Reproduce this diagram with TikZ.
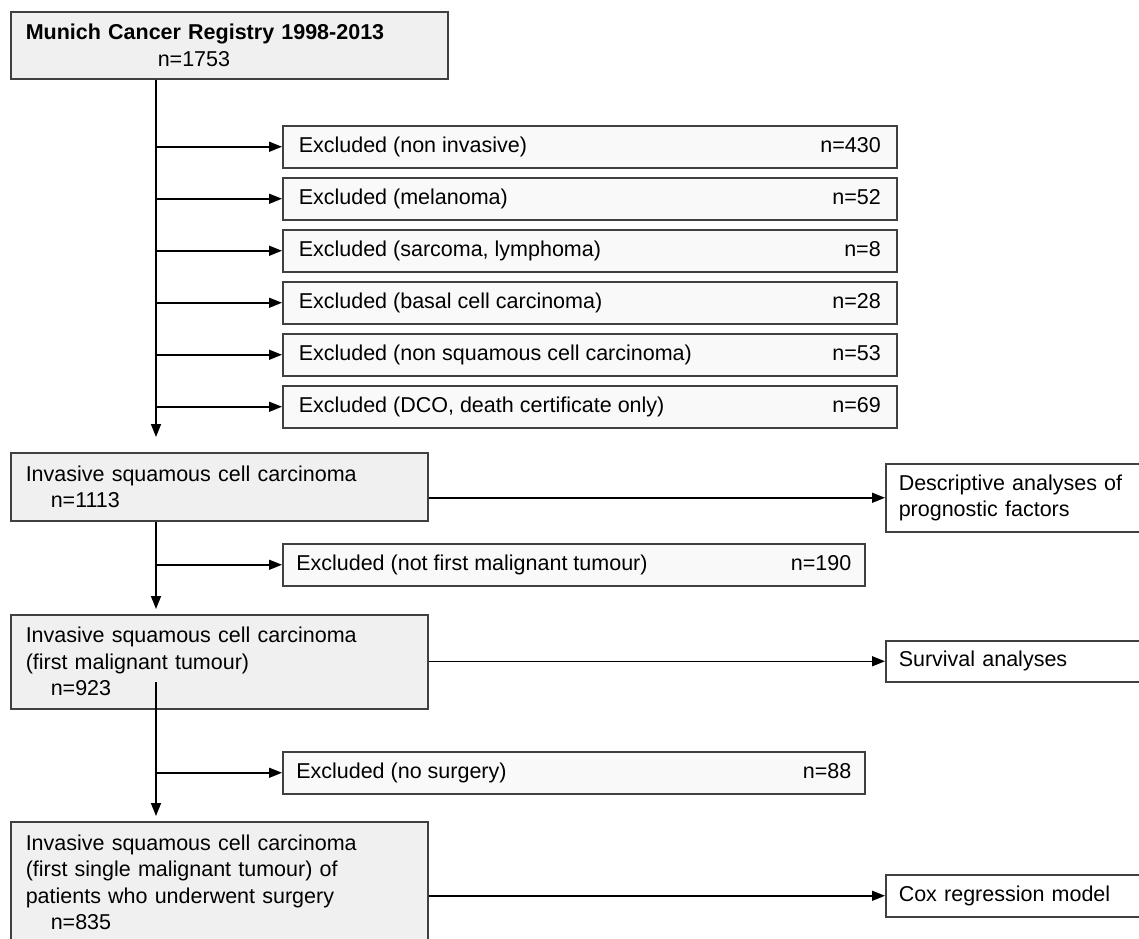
\documentclass[tikz,border=0pt]{standalone}
\usepackage{fontspec}
\setmainfont{Liberation Sans}
\usetikzlibrary{arrows.meta}
\definecolor{boxgray}{HTML}{F0F0F0}
\definecolor{exgray}{HTML}{F9F9F9}
\newcommand{\exrow}[3]{\makebox[#1pt]{#2\hfill #3}}
\tikzset{
  mainbox/.style={draw=black!75,line width=1.5pt,fill=boxgray,anchor=north west,
    inner xsep=15pt,inner ysep=0pt,text width=387pt,minimum width=417pt,align=left},
  exbox/.style={draw=black!75,line width=1.5pt,fill=exgray,anchor=north west,
    inner sep=0pt,minimum height=42pt},
  outbox/.style={draw=black!75,line width=1.5pt,fill=white,anchor=north west,
    inner xsep=13pt,inner ysep=0pt,text width=300pt,align=left},
  link/.style={line width=1.5pt,-{Triangle[length=13pt,width=10pt]}}
}
\begin{document}
\begin{tikzpicture}[x=1pt,y=-1pt,font=\fontsize{21.5}{26.5}\selectfont]
    \useasboundingbox (0,0) rectangle (1139,938);
    \clip (0,0) rectangle (1139,938);
    % Registro
    \node[mainbox,minimum height=67pt,text width=407pt,minimum width=437pt] (reg) at (10,11)
      {\textbf{Munich Cancer Registry 1998-2013}\\\hspace*{132pt}n=1753};
    % Exclusiones iniciales
    \node[exbox,minimum width=614pt] (ex1) at (282,125) {\exrow{582}{Excluded (non invasive)}{n=430}};
    \node[exbox,minimum width=614pt] (ex2) at (282,177) {\exrow{582}{Excluded (melanoma)}{n=52}};
    \node[exbox,minimum width=614pt] (ex3) at (282,229) {\exrow{582}{Excluded (sarcoma, lymphoma)}{n=8}};
    \node[exbox,minimum width=614pt] (ex4) at (282,281) {\exrow{582}{Excluded (basal cell carcinoma)}{n=28}};
    \node[exbox,minimum width=614pt] (ex5) at (282,333) {\exrow{582}{Excluded (non squamous cell carcinoma)}{n=53}};
    \node[exbox,minimum width=614pt] (ex6) at (282,385) {\exrow{582}{Excluded (DCO, death certificate only)}{n=69}};
    % Carcinoma invasivo
    \node[mainbox,minimum height=68pt] (inv1) at (10,452)
      {Invasive squamous cell carcinoma\\\hspace*{25pt}n=1113};
    \node[exbox,minimum width=582pt] (ex7) at (282,543) {\exrow{555}{Excluded (not first malignant tumour)}{n=190}};
    \node[mainbox,minimum height=94pt] (inv2) at (10,614)
      {Invasive squamous cell carcinoma\\(first malignant tumour)\\\hspace*{25pt}n=923};
    \node[exbox,minimum width=582pt] (ex8) at (282,751) {\exrow{555}{Excluded (no surgery)}{n=88}};
    \node[mainbox,minimum height=121pt] (inv3) at (10,821)
      {Invasive squamous cell carcinoma\\(first single malignant tumour) of\\patients who underwent surgery\\\hspace*{25pt}n=835};
    % Analisis
    \node[outbox,minimum height=68pt] (desc) at (885,463) {Descriptive analyses of\\prognostic factors};
    \node[outbox,minimum height=41pt] (surv) at (885,640) {Survival analyses};
    \node[outbox,minimum height=42pt] (cox) at (885,874) {Cox regression model};
    % Tronco vertical
    \coordinate (trunk) at (156,0);
    \coordinate (end1) at (156,437);
    \coordinate (start3) at (156,682);
    \draw[link] (trunk |- reg.south) -- (end1);
    \draw[link] (trunk |- ex1.west) -- (ex1.west);
    \draw[link] (trunk |- ex2.west) -- (ex2.west);
    \draw[link] (trunk |- ex3.west) -- (ex3.west);
    \draw[link] (trunk |- ex4.west) -- (ex4.west);
    \draw[link] (trunk |- ex5.west) -- (ex5.west);
    \draw[link] (trunk |- ex6.west) -- (ex6.west);
    \draw[link,shorten >=5pt] (trunk |- inv1.south) -- (trunk |- inv2.north);
    \draw[link] (trunk |- ex7.west) -- (ex7.west);
    \draw[link,shorten >=5pt] (start3) -- (trunk |- inv3.north);
    \draw[link] (trunk |- ex8.west) -- (ex8.west);
    % Flechas a la derecha
    \draw[link] (inv1.east |- desc.west) -- (desc.west);
    \draw[link] (inv2.east |- surv.west) -- (surv.west);
    \draw[link] (inv3.east |- cox.west) -- (cox.west);
\end{tikzpicture}
\end{document}
